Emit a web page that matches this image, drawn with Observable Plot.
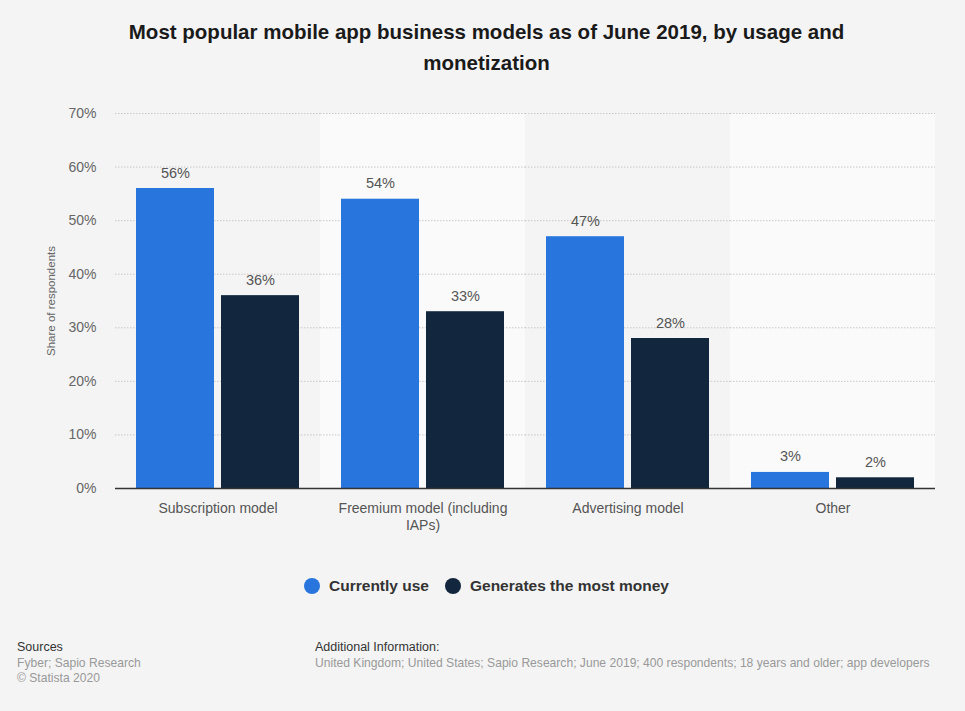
<!DOCTYPE html>
<html>
<head>
<meta charset="utf-8">
<script src="https://cdn.jsdelivr.net/npm/d3@7"></script>
<script src="https://cdn.jsdelivr.net/npm/@observablehq/plot@0.6"></script>
<style>
  html, body { margin: 0; padding: 0; background: #f4f4f4; }
  #wrap { position: relative; width: 965px; height: 711px; background: #f4f4f4; font-family: "Liberation Sans", Arial, sans-serif; overflow: hidden; }
  #title { position: absolute; top: 16px; left: 4px; width: 965px; text-align: center; font-weight: bold; font-size: 20.5px; line-height: 31px; color: #1a1a1a; }
  #chart { position: absolute; top: 95px; left: 0; }
  #legend { position: absolute; top: 577px; left: 4px; width: 965px; display: flex; justify-content: center; gap: 16px; font-weight: bold; font-size: 15.5px; color: #333; }
  #legend .item { display: flex; align-items: center; gap: 9px; }
  #legend .dot { width: 16px; height: 16px; border-radius: 50%; display: inline-block; }
  .foot { position: absolute; font-size: 12.1px; line-height: 15.5px; }
  .foot .h { color: #333; font-size: 12.5px; }
  .foot .t { color: #999; }
</style>
</head>
<body>
<div id="wrap">
  <div id="title">Most popular mobile app business models as of June 2019, by usage and<br>monetization</div>
  <div id="chart"></div>
  <div id="legend"></div>
  <div class="foot" style="left:17px; top:640px;">
    <div class="h">Sources</div>
    <div class="t">Fyber; Sapio Research</div>
    <div class="t">© Statista 2020</div>
  </div>
  <div class="foot" style="left:315px; top:640px;">
    <div class="h">Additional Information:</div>
    <div class="t">United Kingdom; United States; Sapio Research; June 2019; 400 respondents; 18 years and older; app developers</div>
  </div>
</div>
<script>
const categories = ["Subscription model", "Freemium model (including IAPs)", "Advertising model", "Other"];
const categoryLabels = ["Subscription model", "Freemium model (including\nIAPs)", "Advertising model", "Other"];
const seriesNames = ["Currently use", "Generates the most money"];
const currentlyUse = [56, 54, 47, 3];
const mostMoney = [36, 33, 28, 2];
const yTicks = [0, 10, 20, 30, 40, 50, 60, 70];
const colors = ["#2876dd", "#12273d"];

const data = [];
categories.forEach((c, i) => {
  data.push({category: c, series: seriesNames[0], value: currentlyUse[i]});
  data.push({category: c, series: seriesNames[1], value: mostMoney[i]});
});
const bands = categories.map((c, i) => ({category: c, shade: i % 2 === 1}));

const chart = Plot.plot({
  width: 965,
  height: 460,
  marginLeft: 115,
  marginRight: 30,
  marginTop: 18,
  marginBottom: 67,
  style: {background: "transparent", fontFamily: "'Liberation Sans', Arial, sans-serif", fontSize: "13px", overflow: "visible"},
  fx: {domain: categories, padding: 0, label: null},
  x: {domain: seriesNames, paddingInner: 0.08, paddingOuter: 0.24, axis: null},
  y: {domain: [0, 70], label: null},
  color: {domain: seriesNames, range: colors},
  marks: [
    Plot.rect(bands, {fx: "category", y1: 0, y2: 70, fill: d => d.shade ? "#fafafa" : "#f4f4f4"}),
    Plot.gridY(yTicks, {stroke: "#c8c8c8", strokeOpacity: 1, strokeDasharray: "1.5,1.5", strokeWidth: 1}),
    Plot.axisY(yTicks, {tickSize: 0, tickPadding: 19, tickFormat: d => d + "%", fill: "#666", fontSize: 14,
      label: "Share of respondents", labelAnchor: "center", labelOffset: 69, labelArrow: "none"}),
    Plot.axisFx({anchor: "bottom", tickSize: 0, tickPadding: 12, fontSize: 14, fill: "#555", lineHeight: 1.25,
      tickFormat: d => categoryLabels[categories.indexOf(d)], label: null}),
    Plot.barY(data, {fx: "category", x: "series", y: "value", fill: "series"}),
    Plot.text(data, {fx: "category", x: "series", y: "value", text: d => d.value + "%", dy: -11, lineAnchor: "bottom", fill: "#555", fontSize: 14.5}),
    Plot.ruleY([0], {stroke: "#333", strokeWidth: 1.5})
  ]
});
document.getElementById("chart").appendChild(chart);

// style y-axis label
chart.querySelectorAll("text").forEach(t => {
  if (t.textContent === "Share of respondents") { t.setAttribute("fill", "#666"); t.setAttribute("font-size", "11.5"); }
});

const legend = document.getElementById("legend");
seriesNames.forEach((s, i) => {
  const item = document.createElement("div");
  item.className = "item";
  const dot = document.createElement("span");
  dot.className = "dot";
  dot.style.background = colors[i];
  const label = document.createElement("span");
  label.textContent = s;
  item.appendChild(dot); item.appendChild(label);
  legend.appendChild(item);
});
</script>
</body>
</html>
